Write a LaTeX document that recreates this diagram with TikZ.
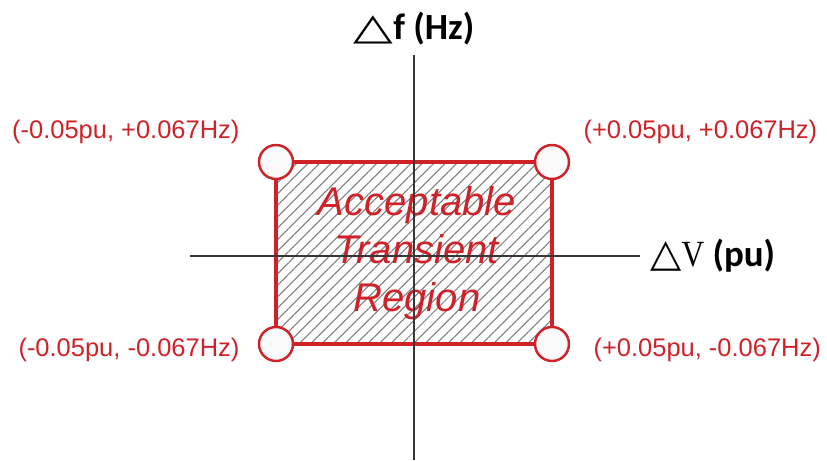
\documentclass[tikz,border=0pt]{standalone}
\usepackage{fontspec}
\setmainfont{Liberation Sans}
\newfontfamily\calfont{Carlito}
\newfontfamily\symfont{DejaVu Sans}
\newfontfamily\serfont{Liberation Serif}
\usepackage{xcolor}
\usepackage{tikz}
\usetikzlibrary{positioning,calc,patterns.meta}
\definecolor{regred}{RGB}{206,34,40}
\definecolor{axisgray}{RGB}{55,55,55}
\definecolor{hatchgray}{RGB}{125,125,125}
\tikzset{
  axis/.style={draw=axisgray, line width=1.6pt},
  region/.style={
    draw=regred, line width=2.2pt,
    pattern={Lines[angle=45, distance=4.6pt, line width=0.6pt]},
    pattern color=hatchgray
  },
  corner/.style={
    circle, draw=regred, fill=gray!4, line width=1.4pt,
    minimum size=0.68cm, inner sep=0pt
  },
  cornerlbl/.style={
    font=\fontsize{14.5}{16}\selectfont, text=regred, inner sep=0pt
  },
  regtext/.style={
    font=\fontsize{22.8}{27.3}\selectfont\itshape, text=regred,
    align=center, inner sep=0pt
  },
  axislbl/.style={
    font=\fontsize{21}{25}\selectfont\calfont\bfseries, text=black,
    inner sep=0pt
  },
}

\begin{document}
\begin{tikzpicture}[x=0.02cm, y=0.02cm]

  \useasboundingbox (-414,-204) rectangle (413,256);

  % Corners of the region
  \coordinate (tl) at (-138,94);
  \coordinate (tr) at (138,94);
  \coordinate (bl) at (-138,-88);
  \coordinate (br) at (138,-88);

  % Acceptable region
  \path[region] (tl) rectangle (br);
  \node[regtext] (rtext) at ($(tl)!0.5!(br)+(3,0)$)
        {Acceptable\\Transient\\Region};

  % Axes
  \coordinate (ytop) at (0,201);
  \coordinate (ybot) at (0,-204);
  \coordinate (xleft) at (-224,0);
  \coordinate (xright) at (226,0);
  \draw[axis] (ybot) -- (ytop);
  \draw[axis] (xleft) -- (xright);

  \node[axislbl, above=0.2cm of ytop] (flbl)
        {{\symfont\scalebox{1.4}[1]{△}}f (Hz)};
  \node[axislbl, right=0.2cm of xright] (vlbl)
        {{\symfont\scalebox{1.1}[1.05]{△}}{\serfont\mdseries\scalebox{0.85}[1]{V}} (pu)};

  % Corner markers
  \node[corner] (ctl) at (tl) {};
  \node[corner] (ctr) at (tr) {};
  \node[corner] (cbl) at (bl) {};
  \node[corner] (cbr) at (br) {};

  % Corner labels
  \node[cornerlbl, left=0.36cm of ctl, yshift=0.6cm] (ltl)
        {(-0.05pu, +0.067Hz)};
  \node[cornerlbl, right=0.26cm of ctr, yshift=0.6cm] (ltr)
        {(+0.05pu, +0.067Hz)};
  \node[cornerlbl, left=0.36cm of cbl, yshift=-0.12cm] (lbl)
        {(-0.05pu, -0.067Hz)};
  \node[cornerlbl, right=0.46cm of cbr, yshift=-0.12cm] (lbr)
        {(+0.05pu, -0.067Hz)};

\end{tikzpicture}
\end{document}
